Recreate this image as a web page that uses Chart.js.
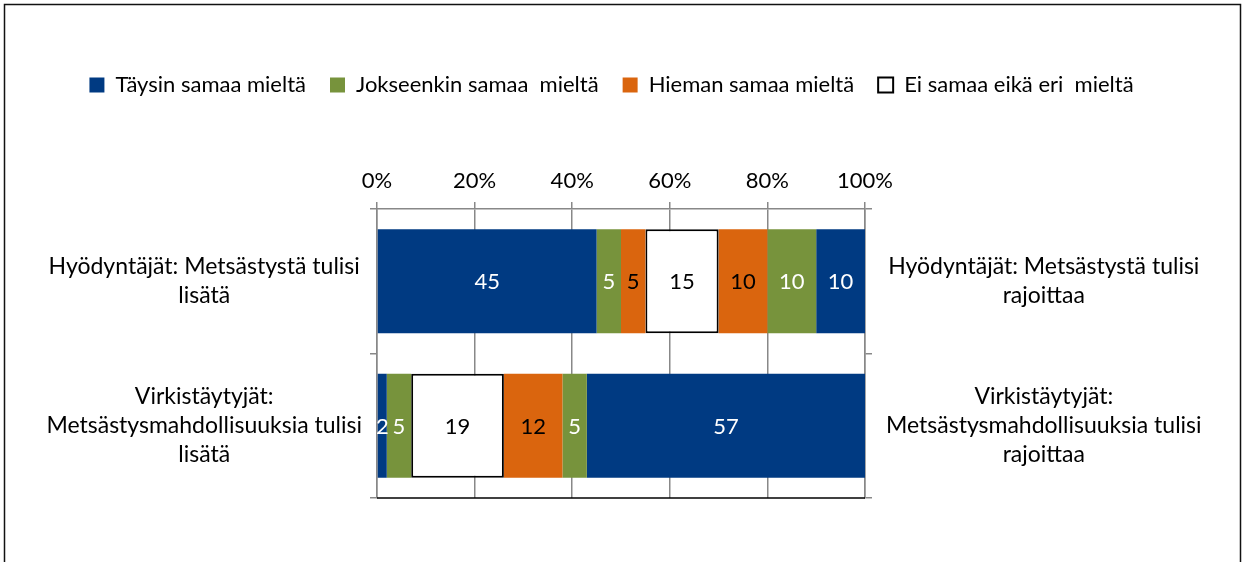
<!DOCTYPE html>
<html>
<head>
<meta charset="utf-8">
<script src="https://cdn.jsdelivr.net/npm/chart.js@4.4.0/dist/chart.umd.min.js"></script>
<style>
  html, body { margin: 0; padding: 0; background: #fff; }
  #wrap { width: 1245px; height: 562px; }
</style>
</head>
<body>
<div id="wrap"><canvas id="chart" width="1245" height="562"></canvas></div>
<script>
const leftLabels = [
  ['Hyödyntäjät: Metsästystä tulisi', 'lisätä'],
  ['Virkistäytyjät:', 'Metsästysmahdollisuuksia tulisi', 'lisätä']
];
const rightLabels = [
  ['Hyödyntäjät: Metsästystä tulisi', 'rajoittaa'],
  ['Virkistäytyjät:', 'Metsästysmahdollisuuksia tulisi', 'rajoittaa']
];
const seriesNames = ['Täysin samaa mieltä', 'Jokseenkin samaa  mieltä', 'Hieman samaa mieltä', 'Ei samaa eikä eri  mieltä'];
const taysinLisata = [45, 2];
const jokseenkinLisata = [5, 5];
const hiemanLisata = [5, 0];
const eiSamaa = [15, 19];
const hiemanRajoittaa = [10, 12];
const jokseenkinRajoittaa = [10, 5];
const taysinRajoittaa = [10, 57];
const xTicks = [0, 20, 40, 60, 80, 100];

const FONT = 'Lato';
const blue = '#003A82';
const green = '#77933C';
const orange = '#DA650E';
const gridGray = '#888888';

function bar(label, data, color, textColor) {
  return {
    label: label,
    data: data,
    backgroundColor: color,
    borderWidth: 0,
    textColor: textColor
  };
}

const datasets = [
  bar(seriesNames[0], taysinLisata, blue, '#fff'),
  bar(seriesNames[1], jokseenkinLisata, green, '#fff'),
  bar(seriesNames[2], hiemanLisata, orange, '#000'),
  Object.assign(bar(seriesNames[3], eiSamaa, '#fff', '#000'), { borderColor: '#000', borderWidth: 2, borderSkipped: false }),
  bar(seriesNames[2], hiemanRajoittaa, orange, '#000'),
  bar(seriesNames[1], jokseenkinRajoittaa, green, '#fff'),
  bar(seriesNames[0], taysinRajoittaa, blue, '#fff')
];

// values inside the bars
const barValues = {
  id: 'barValues',
  afterDatasetsDraw(chart) {
    const ctx = chart.ctx;
    ctx.save();
    ctx.font = '22px ' + FONT;
    ctx.textAlign = 'center';
    ctx.textBaseline = 'middle';
    chart.data.datasets.forEach((ds, i) => {
      chart.getDatasetMeta(i).data.forEach((el, j) => {
        const v = ds.data[j];
        if (!v) return;
        const p = el.getProps(['x', 'y', 'base'], true);
        ctx.fillStyle = ds.textColor;
        ctx.fillText(String(v), (p.x + p.base) / 2, p.y + 1);
      });
    });
    // dark bottom edge of the plot
    const a = chart.chartArea;
    ctx.strokeStyle = '#000';
    ctx.lineWidth = 1.5;
    ctx.beginPath();
    ctx.moveTo(a.left, a.bottom);
    ctx.lineTo(a.right, a.bottom);
    ctx.stroke();
    ctx.restore();
  }
};

const frame = {
  id: 'frame',
  beforeDraw(chart) {
    const ctx = chart.ctx;
    ctx.save();
    ctx.strokeStyle = '#111';
    ctx.lineWidth = 1.5;
    ctx.strokeRect(4.5, 4.5, 1236, 620);
    ctx.restore();
  }
};

const PAD_TOP = 50;

new Chart(document.getElementById('chart'), {
  type: 'bar',
  data: { labels: leftLabels, datasets: datasets },
  options: {
    indexAxis: 'y',
    responsive: false,
    animation: false,
    layout: { padding: { left: 6, right: 28, top: PAD_TOP, bottom: 64 } },
    datasets: { bar: { categoryPercentage: 1, barPercentage: 0.72 } },
    plugins: {
      tooltip: { enabled: false },
      legend: {
        position: 'top',
        labels: {
          filter: item => item.datasetIndex < 4,
          boxWidth: 15,
          boxHeight: 15,
          padding: 24,
          color: '#000',
          font: { family: FONT, size: 22 }
        }
      }
    },
    scales: {
      x: {
        type: 'linear',
        position: 'top',
        stacked: true,
        min: 0,
        max: 100,
        afterBuildTicks: s => { s.ticks = xTicks.map(v => ({ value: v })); },
        afterFit: s => { s.height = 209 - PAD_TOP - s.chart.legend.height; },
        ticks: {
          callback: v => v + '%',
          color: '#000',
          padding: 8,
          font: { family: FONT, size: 22, lineHeight: 1.2 }
        },
        grid: { color: gridGray, lineWidth: 1.5, tickLength: 7 },
        border: { color: gridGray, width: 1.5 }
      },
      y: {
        type: 'category',
        stacked: true,
        offset: true,
        afterFit: s => { s.width = 377 - 6; },
        ticks: {
          crossAlign: 'center',
          color: '#000',
          padding: 8,
          font: { family: FONT, size: 23, lineHeight: 1.25 }
        },
        grid: { offset: true, drawOnChartArea: false, color: gridGray, lineWidth: 1.5, tickLength: 7 },
        border: { color: gridGray, width: 1.5 }
      },
      y2: {
        type: 'category',
        axis: 'y',
        position: 'right',
        labels: rightLabels,
        offset: true,
        afterFit: s => { s.width = (1245 - 28) - 865; },
        ticks: {
          crossAlign: 'center',
          color: '#000',
          padding: 14,
          font: { family: FONT, size: 23, lineHeight: 1.25 }
        },
        grid: { offset: true, drawOnChartArea: false, color: gridGray, lineWidth: 1.5, tickLength: 7 },
        border: { color: gridGray, width: 1.5 }
      }
    }
  },
  plugins: [frame, barValues]
});
</script>
</body>
</html>
